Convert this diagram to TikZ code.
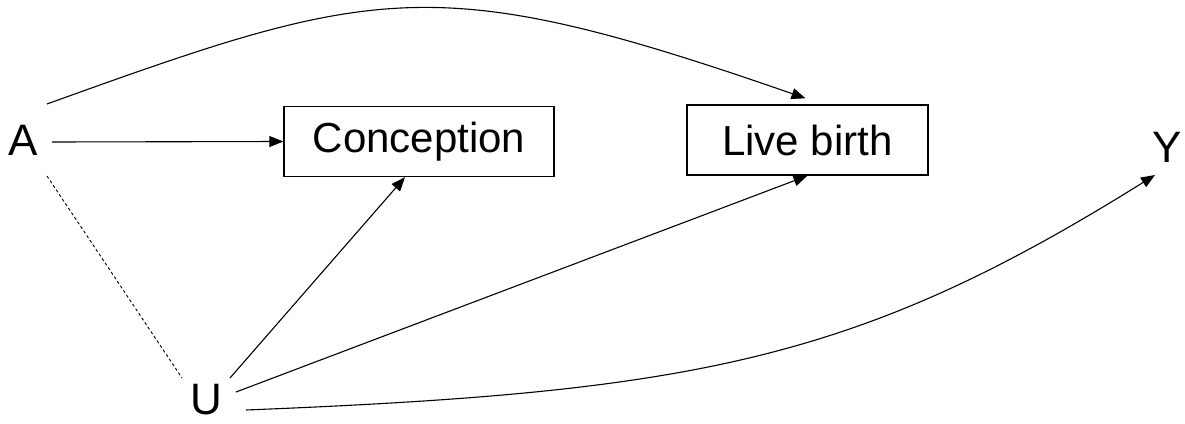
\documentclass[tikz,border=0pt]{standalone}
\usepackage{fontspec}
\setmainfont{Liberation Sans}
\usetikzlibrary{arrows.meta}
\tikzset{
  var/.style={inner sep=0pt, anchor=base, font=\fontsize{44}{48}\selectfont},
  stagebox/.style={draw, line width=1.4pt, inner sep=0pt, minimum height=70pt,
    font=\fontsize{42}{46}\selectfont},
  edge/.style={line width=1.1pt, -{Triangle[length=14pt,width=11pt]}},
  assoc/.style={line width=0.9pt, dash pattern=on 3pt off 2.5pt}
}
\begin{document}
\begin{tikzpicture}[x=1pt, y=-1pt]
\useasboundingbox (0,0) rectangle (1185,423);

% variables
\node[var] (A) at (23,155) {A};
\node[var] (U) at (206,414) {U};
\node[var] (Y) at (1167,162) {Y};

% intermediate stages
\node[stagebox, minimum width=270pt] (C) at (419,141.5) {Conception};
\node[stagebox, minimum width=241pt] (L) at (807.5,140) {Live birth};

% A to conception and live birth
\draw[edge] ([shift={(29,-13)}]A.base) -- (C.west);
\draw[edge] ([shift={(24,-51)}]A.base) .. controls (377,-15) and (435,-30.5) .. ([shift={(-2,-6)}]L.north);

% association between A and U
\draw[assoc] ([shift={(24,21)}]A.base) -- ([shift={(-24,-36)}]U.base);

% U to the stages and the outcome
\draw[edge] ([shift={(24,-36)}]U.base) -- ([xshift=-14pt]C.south);
\draw[edge] ([shift={(30,-22)}]U.base) -- (L.south);
\draw[edge] ([shift={(40,-4)}]U.base) .. controls (696,392) and (858,360.5) .. ([shift={(-12,13)}]Y.base);
\end{tikzpicture}
\end{document}
